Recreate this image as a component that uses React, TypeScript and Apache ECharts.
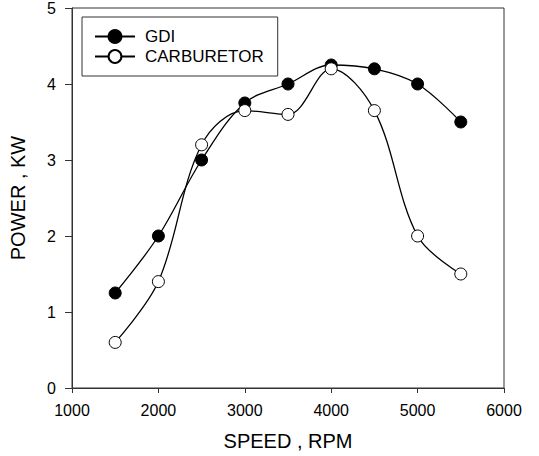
import React, { useEffect, useRef } from "react";
import * as echarts from "echarts";

const speeds = [1500, 2000, 2500, 3000, 3500, 4000, 4500, 5000, 5500];
const gdiPower = [1.25, 2.0, 3.0, 3.75, 4.0, 4.25, 4.2, 4.0, 3.5];
const carbPower = [0.6, 1.4, 3.2, 3.65, 3.6, 4.2, 3.65, 2.0, 1.5];
const seriesNames = ["GDI", "CARBURETOR"];

const FONT = "Liberation Sans, Arial, sans-serif";

export default function App() {
  const ref = useRef<HTMLDivElement>(null);
  useEffect(() => {
    if (!ref.current) return;
    const chart = echarts.init(ref.current, undefined, { renderer: "svg" });
    const mk = (vals: number[]) => speeds.map((s, i) => [s, vals[i]]);
    chart.setOption({
      animation: false,
      backgroundColor: "#fff",
      textStyle: { fontFamily: FONT },
      grid: {
        left: 72,
        top: 8,
        right: 35,
        bottom: 66,
        show: true,
        borderColor: "#333",
        borderWidth: 1,
      },
      legend: {
        data: seriesNames,
        orient: "vertical",
        left: 82,
        top: 17,
        borderColor: "#333",
        borderWidth: 1,
        padding: [11, 14, 11, 12],
        itemGap: 3,
        itemWidth: 40,
        itemHeight: 16,
        textStyle: { fontSize: 17, color: "#000", fontFamily: FONT, padding: [0, 0, 0, 5] },
      },
      xAxis: {
        type: "value",
        min: 1000,
        max: 6000,
        interval: 1000,
        name: "SPEED , RPM",
        nameLocation: "middle",
        nameGap: 43,
        nameTextStyle: { fontSize: 20, color: "#000", fontFamily: FONT },
        axisLine: { show: true, lineStyle: { color: "#333", width: 1 } },
        axisTick: { show: true, length: 5, lineStyle: { color: "#333" } },
        axisLabel: {
          fontSize: 16,
          color: "#000",
          margin: 14,
          fontFamily: FONT,
          formatter: (v: number) => String(v),
        },
        splitLine: { show: false },
      },
      yAxis: {
        type: "value",
        min: 0,
        max: 5,
        interval: 1,
        name: "POWER , KW",
        nameLocation: "middle",
        nameGap: 44,
        nameTextStyle: { fontSize: 20, color: "#000", fontFamily: FONT },
        axisLine: { show: true, lineStyle: { color: "#333", width: 1 } },
        axisTick: { show: true, length: 7, lineStyle: { color: "#333" } },
        axisLabel: { fontSize: 16, color: "#000", margin: 16, fontFamily: FONT },
        splitLine: { show: false },
      },
      series: [
        {
          name: seriesNames[0],
          type: "line",
          data: mk(gdiPower),
          smooth: 0.35,
          symbol: "circle",
          symbolSize: 12,
          lineStyle: { color: "#000", width: 1.3 },
          itemStyle: { color: "#000", borderColor: "#000", borderWidth: 1 },
          z: 3,
        },
        {
          name: seriesNames[1],
          type: "line",
          data: mk(carbPower),
          smooth: 0.35,
          symbol: "circle",
          symbolSize: 12,
          lineStyle: { color: "#000", width: 1.3 },
          itemStyle: { color: "#fff", borderColor: "#000", borderWidth: 1 },
          z: 4,
        },
      ],
    });
    return () => chart.dispose();
  }, []);
  return <div ref={ref} style={{ width: 539, height: 456, position: "absolute", left: 0, top: 0 }} />;
}
